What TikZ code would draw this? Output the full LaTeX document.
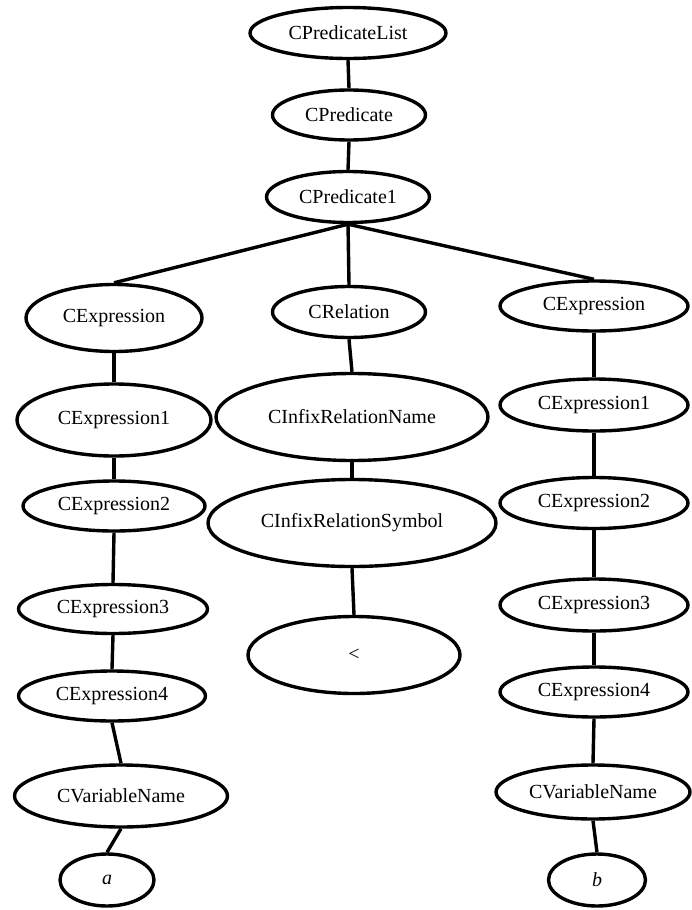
\documentclass[tikz,border=0pt]{standalone}
\usepackage{fontspec}
\setmainfont{Liberation Serif}
\usetikzlibrary{shapes.geometric}
\begin{document}
\begin{tikzpicture}[x=1pt,y=-1pt,
  en/.style={draw=black,line width=3.4pt,ellipse,inner sep=0pt,fill=white,
    font=\fontsize{20}{22}\selectfont},
  conn/.style={line width=3.4pt,draw=black}]
\useasboundingbox[fill=white] (0,0) rectangle (691,910);
\node[en,minimum width=196,minimum height=51] (pl) at (348,33) {CPredicateList};
\node[en,minimum width=153,minimum height=50] (p) at (349,115) {CPredicate};
\node[en,minimum width=163,minimum height=51] (p1) at (348,197) {CPredicate1};
\node[en,minimum width=176,minimum height=67] (el) at (114,318) {CExpression};
\node[en,minimum width=153,minimum height=51] (rel) at (349,312) {CRelation};
\node[en,minimum width=188,minimum height=50] (er) at (594,306) {CExpression};
\node[en,minimum width=194,minimum height=72] (el1) at (114,420) {CExpression1};
\node[en,minimum width=272,minimum height=87] (irn) at (352,417) {CInfixRelationName};
\node[en,minimum width=188,minimum height=52] (er1) at (594,405) {CExpression1};
\node[en,minimum width=182,minimum height=50] (el2) at (114,506) {CExpression2};
\node[en,minimum width=288,minimum height=87] (irs) at (352,523) {CInfixRelationSymbol};
\node[en,minimum width=188,minimum height=51] (er2) at (594,503) {CExpression2};
\node[en,minimum width=189,minimum height=49] (el3) at (113,609) {CExpression3};
\node[en,minimum width=212,minimum height=77] (lt) at (354,655) {<};
\node[en,minimum width=188,minimum height=52] (er3) at (594,605) {CExpression3};
\node[en,minimum width=187,minimum height=50] (el4) at (112,696) {CExpression4};
\node[en,minimum width=188,minimum height=50] (er4) at (594,692) {CExpression4};
\node[en,minimum width=213,minimum height=62] (vl) at (121,796) {CVariableName};
\node[en,minimum width=194,minimum height=54] (vr) at (593,792) {CVariableName};
\node[en,minimum width=94,minimum height=52] (a) at (107,880) {\itshape a};
\node[en,minimum width=97,minimum height=52] (b) at (597,880) {\itshape b};
\draw[conn] (pl.south) -- (p.north);
\draw[conn] (p.south) -- (p1.north);
\draw[conn] (p1.south) -- (el.north);
\draw[conn] (p1.south) -- (rel.north);
\draw[conn] (p1.south) -- (er.north);
\draw[conn] (el.south) -- (el1.north);
\draw[conn] (el1.south) -- (el2.north);
\draw[conn] (el2.south) -- (el3.north);
\draw[conn] (el3.south) -- (el4.north);
\draw[conn] (el4.south) -- (vl.north);
\draw[conn] (vl.south) -- (a.north);
\draw[conn] (rel.south) -- (irn.north);
\draw[conn] (irn.south) -- (irs.north);
\draw[conn] (irs.south) -- (lt.north);
\draw[conn] (er.south) -- (er1.north);
\draw[conn] (er1.south) -- (er2.north);
\draw[conn] (er2.south) -- (er3.north);
\draw[conn] (er3.south) -- (er4.north);
\draw[conn] (er4.south) -- (vr.north);
\draw[conn] (vr.south) -- (b.north);
\end{tikzpicture}
\end{document}
